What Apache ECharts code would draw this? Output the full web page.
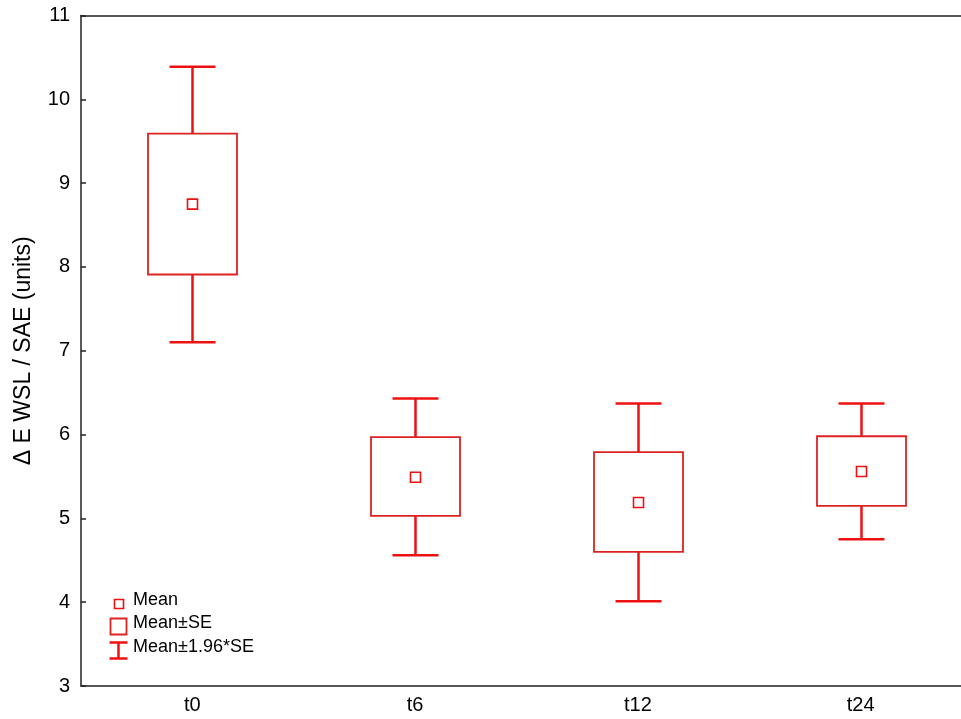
<!DOCTYPE html>
<html>
<head>
<meta charset="utf-8">
<script src="https://cdn.jsdelivr.net/npm/echarts@6/dist/echarts.min.js"></script>
<style>
  html, body { margin: 0; padding: 0; background: #fff; overflow: hidden; }
  #chart { width: 972px; height: 719px; }
</style>
</head>
<body>
<div id="chart"></div>
<script>
// time points
const categories = ['t0', 't6', 't12', 't24'];
// Mean-1.96*SE, Mean-SE, Mean, Mean+SE, Mean+1.96*SE
const ciLow = [7.10, 4.56, 4.01, 4.75];
const seLow = [7.91, 5.03, 4.60, 5.15];
const means = [8.75, 5.49, 5.19, 5.56];
const seHigh = [9.59, 5.97, 5.79, 5.98];
const ciHigh = [10.39, 6.43, 6.37, 6.37];
const yTicks = [3, 4, 5, 6, 7, 8, 9, 10, 11];

const font = 'Arial, "Liberation Sans", sans-serif';
const red = '#ee1111';
const boxRed = '#dd2222';

// the plot frame runs past the right edge of the 961px window
const chart = echarts.init(document.getElementById('chart'));

const seriesData = categories.map((c, i) => [i, ciLow[i], seLow[i], means[i], seHigh[i], ciHigh[i]]);

function renderItem(params, api) {
  const x = api.value(0);
  const pLo = api.coord([x, api.value(1)]);
  const bLo = api.coord([x, api.value(2)]);
  const m = api.coord([x, api.value(3)]);
  const bHi = api.coord([x, api.value(4)]);
  const pHi = api.coord([x, api.value(5)]);
  const cx = Math.round(m[0]) + 0.5;
  const boxW = 89, capW = 46, mk = 10;
  const lineStyle = { stroke: red, lineWidth: 2.5, fill: null };
  return {
    type: 'group',
    children: [
      { type: 'line', shape: { x1: cx, y1: pHi[1], x2: cx, y2: bHi[1] }, style: lineStyle },
      { type: 'line', shape: { x1: cx, y1: bLo[1], x2: cx, y2: pLo[1] }, style: lineStyle },
      { type: 'line', shape: { x1: cx - capW / 2, y1: pHi[1], x2: cx + capW / 2, y2: pHi[1] }, style: lineStyle },
      { type: 'line', shape: { x1: cx - capW / 2, y1: pLo[1], x2: cx + capW / 2, y2: pLo[1] }, style: lineStyle },
      { type: 'rect', shape: { x: cx - boxW / 2, y: bHi[1], width: boxW, height: bLo[1] - bHi[1] },
        style: { stroke: boxRed, lineWidth: 1.8, fill: 'none' } },
      { type: 'rect', shape: { x: cx - mk / 2, y: m[1] - mk / 2, width: mk, height: mk },
        style: { stroke: red, lineWidth: 1.6, fill: 'none' } }
    ]
  };
}

const option = {
  animation: false,
  backgroundColor: '#fff',
  grid: { left: 81, top: 15.5, right: 0, bottom: 33, containLabel: false },
  xAxis: [
    {
      type: 'category',
      data: categories,
      position: 'bottom',
      boundaryGap: true,
      axisLine: { lineStyle: { color: '#222', width: 1.5 } },
      axisTick: { inside: true, length: 5, alignWithLabel: true, lineStyle: { color: '#222', width: 1.5 } },
      axisLabel: { color: '#000', fontSize: 20, fontFamily: font, margin: 9 },
      splitLine: { show: false }
    },
    {
      type: 'category',
      data: categories,
      position: 'top',
      boundaryGap: true,
      axisLine: { lineStyle: { color: '#222', width: 1.5 } },
      axisTick: { inside: true, length: 5, alignWithLabel: true, lineStyle: { color: '#222', width: 1.5 } },
      axisLabel: { show: false },
      splitLine: { show: false }
    }
  ],
  yAxis: {
    type: 'value',
    min: yTicks[0],
    max: yTicks[yTicks.length - 1],
    interval: 1,
    name: 'Δ E WSL / SAE (units)',
    nameLocation: 'middle',
    nameGap: 46,
    nameTextStyle: { color: '#000', fontSize: 23, fontFamily: font },
    axisLine: { show: true, lineStyle: { color: '#222', width: 1.5 } },
    axisTick: { show: true, inside: true, length: 5, lineStyle: { color: '#222', width: 1.5 } },
    axisLabel: { color: '#000', fontSize: 20, fontFamily: font, margin: 11 },
    splitLine: { show: false }
  },
  series: [
    {
      type: 'custom',
      renderItem: renderItem,
      encode: { x: 0, y: [1, 2, 3, 4, 5] },
      data: seriesData,
      clip: false
    }
  ],
  graphic: [
    { type: 'rect', left: 112, top: 597, shape: { width: 9, height: 9 },
      style: { stroke: red, lineWidth: 1.6, fill: 'none' } },
    { type: 'text', left: 133, top: 591, style: { text: 'Mean', fontSize: 18, fontFamily: font, fill: '#000' } },
    { type: 'rect', left: 108, top: 616, shape: { width: 16, height: 16 },
      style: { stroke: boxRed, lineWidth: 1.8, fill: 'none' } },
    { type: 'text', left: 133, top: 614, style: { text: 'Mean±SE', fontSize: 18, fontFamily: font, fill: '#000' } },
    { type: 'group', left: 107, top: 640, children: [
      { type: 'line', shape: { x1: 0, y1: 1, x2: 18, y2: 1 }, style: { stroke: red, lineWidth: 2.5 } },
      { type: 'line', shape: { x1: 9, y1: 1, x2: 9, y2: 17 }, style: { stroke: red, lineWidth: 2.5 } },
      { type: 'line', shape: { x1: 0, y1: 17, x2: 18, y2: 17 }, style: { stroke: red, lineWidth: 2.5 } }
    ] },
    { type: 'text', left: 133, top: 638, style: { text: 'Mean±1.96*SE', fontSize: 18, fontFamily: font, fill: '#000' } }
  ]
};

chart.setOption(option);
</script>
</body>
</html>
